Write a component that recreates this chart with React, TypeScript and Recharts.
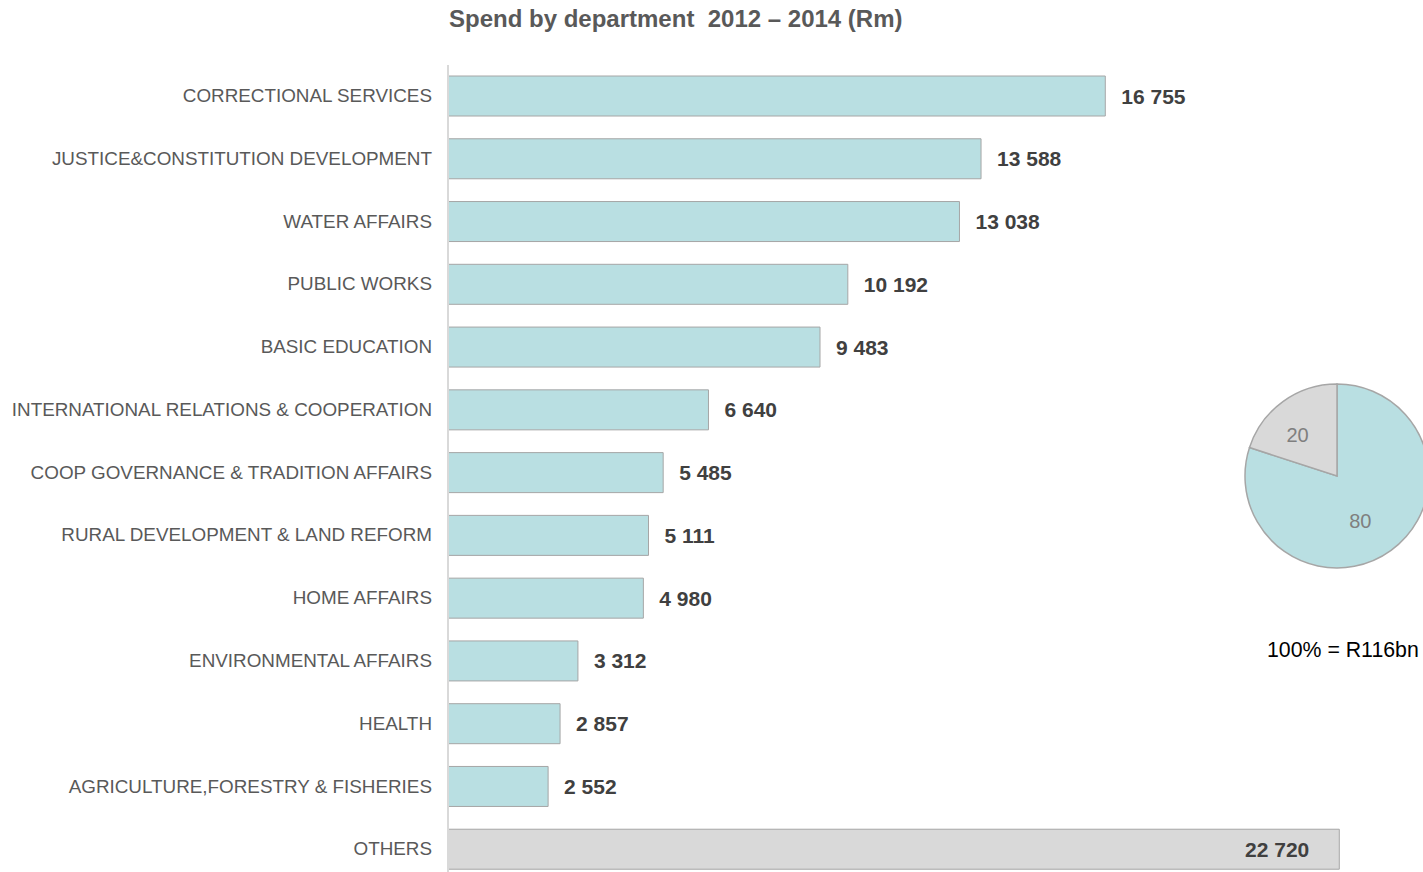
import { Bar, BarChart, Cell, LabelList, Pie, PieChart, XAxis, YAxis } from 'recharts'

const departments = [
  'CORRECTIONAL SERVICES',
  'JUSTICE&CONSTITUTION DEVELOPMENT',
  'WATER AFFAIRS',
  'PUBLIC WORKS',
  'BASIC EDUCATION',
  'INTERNATIONAL RELATIONS & COOPERATION',
  'COOP GOVERNANCE & TRADITION AFFAIRS',
  'RURAL DEVELOPMENT & LAND REFORM',
  'HOME AFFAIRS',
  'ENVIRONMENTAL AFFAIRS',
  'HEALTH',
  'AGRICULTURE,FORESTRY & FISHERIES',
  'OTHERS',
]

const spendRm = [16755, 13588, 13038, 10192, 9483, 6640, 5485, 5111, 4980, 3312, 2857, 2552, 22720]

const shareNames = ['Top 12 departments', 'Others']
const sharePct = [80, 20]

const title = 'Spend by department  2012 – 2014 (Rm)'
const totalNote = '100% = R116bn'

const FONT = 'Arial, "Liberation Sans", sans-serif'
const TEAL = '#b9dfe2'
const GREY = '#d9d9d9'
const EDGE = '#a6a6a6'

const barData = departments.map((name, i) => ({ name, value: spendRm[i] }))
const pieData = shareNames.map((name, i) => ({ name, value: sharePct[i] }))

const fmt = (v: number) => String(v).replace(/\B(?=(\d{3})+(?!\d))/g, ' ')

function ValueLabel(props: any) {
  const { x, y, width, height, value, index } = props
  const inside = departments[index] === 'OTHERS'
  const tx = inside ? x + width - 30 : x + width + 16
  return (
    <text
      x={tx}
      y={y + height / 2}
      dy="0.36em"
      textAnchor={inside ? 'end' : 'start'}
      fontFamily={FONT}
      fontSize={21}
      fontWeight="bold"
      fill="#404040"
    >
      {fmt(value)}
    </text>
  )
}

function PieLabel(props: any) {
  const { cx, cy, midAngle, outerRadius, value } = props
  const r = outerRadius * 0.58
  const rad = (Math.PI / 180) * midAngle
  return (
    <text
      x={cx + r * Math.cos(rad) - 8}
      y={cy - r * Math.sin(rad) + 2}
      dy="0.36em"
      textAnchor="middle"
      fontFamily={FONT}
      fontSize={20}
      fill="#7f7f7f"
    >
      {value}
    </text>
  )
}

export default function App() {
  return (
    <div
      style={{
        position: 'absolute',
        left: 0,
        top: 0,
        width: 1423,
        height: 872,
        overflow: 'hidden',
        background: '#fff',
        fontFamily: FONT,
      }}
    >
      <div
        style={{
          position: 'absolute',
          left: 449,
          top: 7,
          fontSize: 24,
          lineHeight: '24px',
          fontWeight: 'bold',
          color: '#595959',
          whiteSpace: 'pre',
        }}
      >
        {title}
      </div>

      <div style={{ position: 'absolute', left: 0, top: 0 }}>
        <BarChart
          width={1423}
          height={881}
          layout="vertical"
          data={barData}
          margin={{ top: 65, right: 33.5, left: 0, bottom: 0 }}
          barSize={40}
        >
          <XAxis type="number" domain={[0, 24000]} hide />
          <YAxis
            type="category"
            dataKey="name"
            width={448}
            interval={0}
            tickLine={false}
            tickSize={0}
            tickMargin={16}
            axisLine={{ stroke: GREY, strokeWidth: 2 }}
            tick={{ fontSize: 18.85, fill: '#595959', fontFamily: FONT, dy: -1 }}
          />
          <Bar dataKey="value" stroke={EDGE} strokeWidth={1} isAnimationActive={false}>
            {barData.map((d) => (
              <Cell key={d.name} fill={d.name === 'OTHERS' ? GREY : TEAL} />
            ))}
            <LabelList dataKey="value" content={<ValueLabel />} />
          </Bar>
        </BarChart>
      </div>

      <div style={{ position: 'absolute', left: 1230, top: 370 }}>
        <PieChart width={193} height={220} margin={{ top: 0, right: 0, bottom: 0, left: 0 }}>
          <Pie
            data={pieData}
            dataKey="value"
            cx={107}
            cy={106}
            outerRadius={92}
            startAngle={90}
            endAngle={-270}
            stroke={EDGE}
            strokeWidth={1.5}
            label={<PieLabel />}
            labelLine={false}
            isAnimationActive={false}
          >
            <Cell fill={TEAL} />
            <Cell fill={GREY} />
          </Pie>
        </PieChart>
      </div>

      <div
        style={{
          position: 'absolute',
          left: 1267,
          top: 638,
          fontSize: 21.3,
          lineHeight: '24px',
          color: '#000',
          whiteSpace: 'pre',
        }}
      >
        {totalNote}
      </div>
    </div>
  )
}
